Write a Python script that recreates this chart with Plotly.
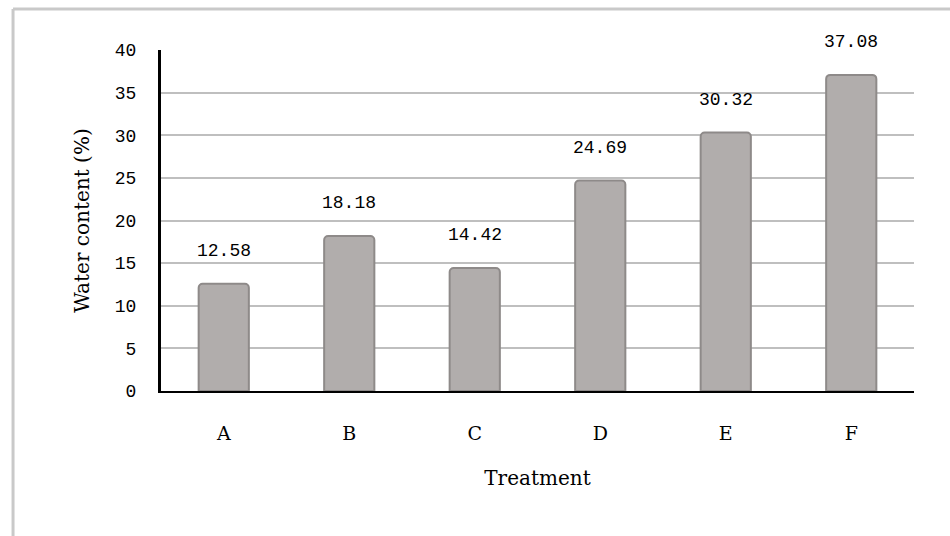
import plotly.graph_objects as go

# Water content by treatment
treatments = ["A", "B", "C", "D", "E", "F"]
water_content = [12.58, 18.18, 14.42, 24.69, 30.32, 37.08]
value_labels = ["12.58", "18.18", "14.42", "24.69", "30.32", "37.08"]
y_ticks = [0, 5, 10, 15, 20, 25, 30, 35, 40]

num_font = dict(family="Liberation Mono", size=18, color="#000000")
cat_font = dict(family="DejaVu Serif", size=19, color="#000000")
title_font = dict(family="DejaVu Serif", size=20, color="#000000")

fig = go.Figure()
fig.add_trace(go.Bar(
    x=treatments,
    y=water_content,
    marker=dict(color="#b1adac", line=dict(color="#8e8a89", width=2), cornerradius=4),
    width=0.4,
    hoverinfo="skip",
))

for cat, val, lab in zip(treatments, water_content, value_labels):
    fig.add_annotation(x=cat, y=val, text=lab, showarrow=False,
                       yanchor="middle", yshift=33, font=num_font)

# light grey frame around the figure (top and left edges)
frame = dict(color="#c9c9c9", width=3)
fig.add_shape(type="line", xref="paper", yref="paper",
              x0=-0.1965, x1=1.1, y0=1.1202, y1=1.1202, line=frame)
fig.add_shape(type="line", xref="paper", yref="paper",
              x0=-0.1965, x1=-0.1965, y0=1.1202, y1=-0.5, line=frame)

fig.update_layout(
    width=950, height=536,
    margin=dict(l=161, r=36, t=50, b=145),
    paper_bgcolor="white", plot_bgcolor="white",
    showlegend=False,
    xaxis=dict(
        showline=True, linecolor="black", linewidth=2,
        showgrid=False, ticks="", tickfont=cat_font,
        ticklabelstandoff=24,
        title=dict(text="Treatment", font=title_font, standoff=28),
    ),
    yaxis=dict(
        range=[0, 40], tickvals=y_ticks, tickfont=num_font,
        showline=True, linecolor="black", linewidth=3,
        showgrid=True, gridcolor="#bfbfbf", gridwidth=2,
        zeroline=False, ticks="", ticklabelstandoff=18,
        title=dict(text="Water content (%)", font=title_font, standoff=20),
    ),
)

fig.write_html("out.html")
